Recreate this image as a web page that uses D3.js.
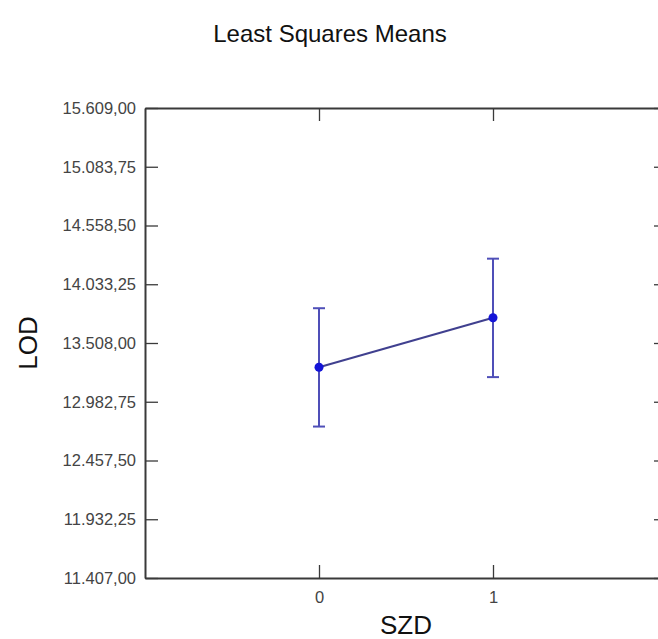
<!DOCTYPE html>
<html>
<head>
<meta charset="utf-8">
<script src="https://cdn.jsdelivr.net/npm/d3@7"></script>
<style>
  body { margin: 0; background: #fff; }
  svg { display: block; font-family: "Liberation Sans", Arial, sans-serif; }
</style>
</head>
<body>
<div class="chart"></div>
<script>
// Least squares means of LOD by SZD group
var groups = [0, 1];
var means = [13291, 13734];
var lower = [12761, 13203];
var upper = [13819, 14262];
var yTicks = [11407.00, 11932.25, 12457.50, 12982.75, 13508.00, 14033.25, 14558.50, 15083.75, 15609.00];

var width = 658;
var height = 639;
var padding = {left: 145, right: -9, top: 108, bottom: 61};

var svg = d3.select(".chart")
    .append("svg")
    .attr("width", width)
    .attr("height", height);

// german style numbers: 15.609,00
var locale = d3.formatLocale({decimal: ",", thousands: ".", grouping: [3], currency: ["", ""]});
var fmt = locale.format(",.2f");

var xScale = d3.scaleLinear()
    .domain([-1, 2])
    .range([padding.left, width - padding.right]);

var yScale = d3.scaleLinear()
    .domain([yTicks[0], yTicks[yTicks.length - 1]])
    .range([height - padding.bottom, padding.top]);

var axisColor = "#3a3a3a";
var labelColor = "#444";

// left axis with labels, ticks pointing inward
var gLeft = svg.append("g")
    .attr("transform", "translate(" + padding.left + ",0)")
    .call(d3.axisLeft(yScale).tickValues(yTicks).tickFormat(fmt)
        .tickSizeInner(-13).tickSizeOuter(0).tickPadding(9));

// bottom axis
var gBottom = svg.append("g")
    .attr("transform", "translate(0," + (height - padding.bottom) + ")")
    .call(d3.axisBottom(xScale).tickValues(groups).tickFormat(d3.format("d"))
        .tickSizeInner(-13).tickSizeOuter(0).tickPadding(13));

// top and right axes, no labels
var gTop = svg.append("g")
    .attr("transform", "translate(0," + padding.top + ")")
    .call(d3.axisTop(xScale).tickValues(groups).tickFormat("")
        .tickSizeInner(-13).tickSizeOuter(0));

var gRight = svg.append("g")
    .attr("transform", "translate(" + (width - padding.right) + ",0)")
    .call(d3.axisRight(yScale).tickValues(yTicks).tickFormat("")
        .tickSizeInner(-13).tickSizeOuter(0));

[gLeft, gBottom, gTop, gRight].forEach(function(g) {
    g.select(".domain").attr("stroke", axisColor).attr("stroke-width", 2);
    g.selectAll(".tick line").attr("stroke", axisColor).attr("stroke-width", 1.3);
    g.selectAll(".tick text")
        .attr("fill", labelColor)
        .style("font-size", "16.5px");
});

// error bars
var capHalf = 6;
var barColor = "#4f4fb8";
var bars = svg.append("g");
groups.forEach(function(g, i) {
    var cx = xScale(g);
    bars.append("line")
        .attr("x1", cx).attr("x2", cx)
        .attr("y1", yScale(lower[i])).attr("y2", yScale(upper[i]))
        .attr("stroke", barColor).attr("stroke-width", 2);
    [lower[i], upper[i]].forEach(function(v) {
        bars.append("line")
            .attr("x1", cx - capHalf).attr("x2", cx + capHalf)
            .attr("y1", yScale(v)).attr("y2", yScale(v))
            .attr("stroke", barColor).attr("stroke-width", 2);
    });
});

// line joining the means
var line = d3.line()
    .x(function(d, i) { return xScale(groups[i]); })
    .y(function(d) { return yScale(d); });

svg.append("path")
    .datum(means)
    .attr("d", line)
    .attr("fill", "none")
    .attr("stroke", "#40408f")
    .attr("stroke-width", 2);

svg.selectAll(".dot")
    .data(means)
    .enter()
    .append("circle")
    .attr("class", "dot")
    .attr("cx", function(d, i) { return xScale(groups[i]); })
    .attr("cy", function(d) { return yScale(d); })
    .attr("r", 4.5)
    .attr("fill", "#1414d8");

// titles
svg.append("text")
    .attr("x", 330)
    .attr("y", 42)
    .attr("text-anchor", "middle")
    .style("font-size", "24px")
    .attr("fill", "#111")
    .text("Least Squares Means");

svg.append("text")
    .attr("x", (padding.left + width - padding.right) / 2)
    .attr("y", 634)
    .attr("text-anchor", "middle")
    .style("font-size", "26px")
    .attr("fill", "#111")
    .text("SZD");

svg.append("text")
    .attr("transform", "translate(37," + yScale(13508) + ") rotate(-90)")
    .attr("text-anchor", "middle")
    .style("font-size", "26px")
    .attr("fill", "#111")
    .text("LOD");
</script>
</body>
</html>
